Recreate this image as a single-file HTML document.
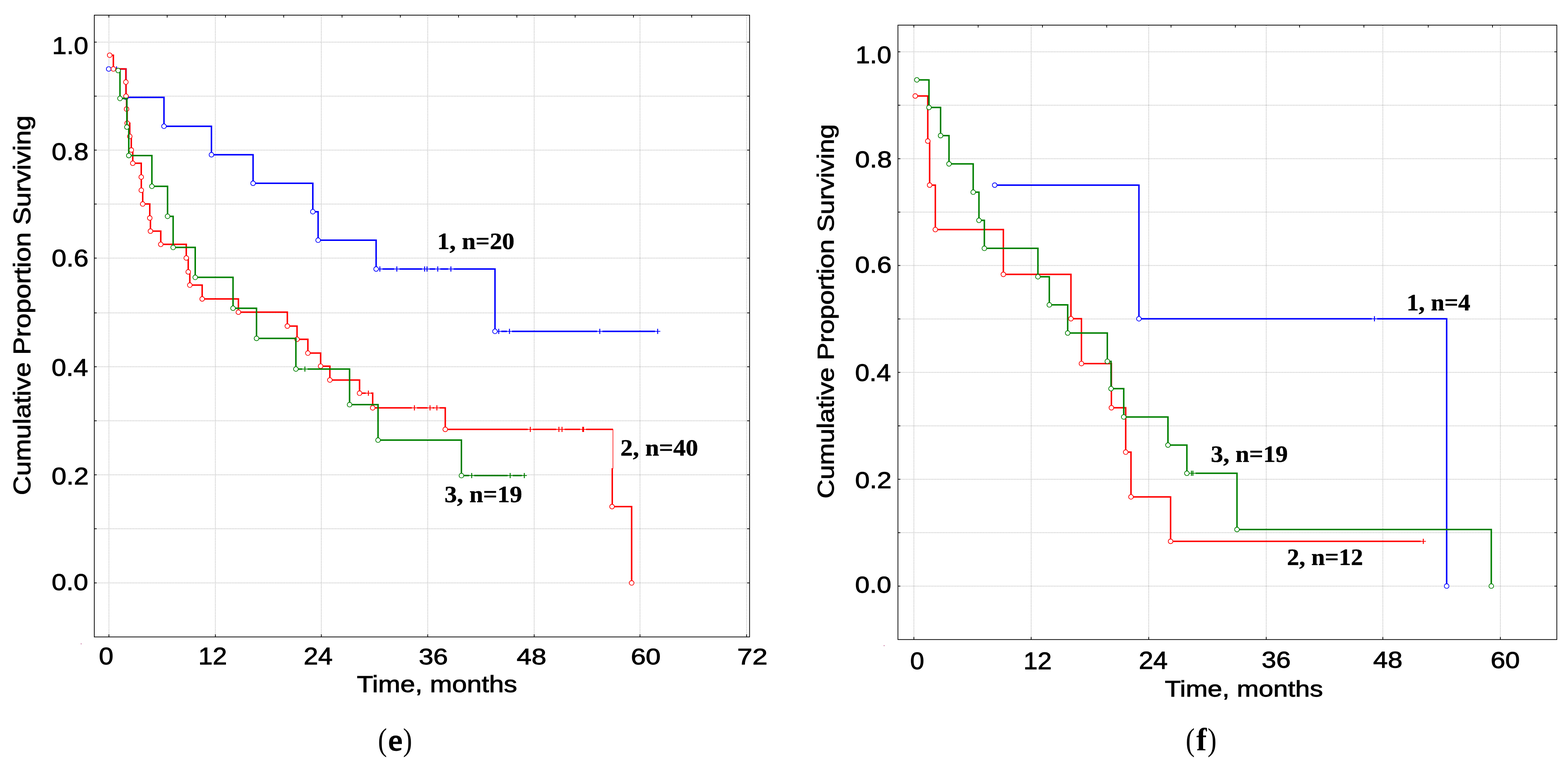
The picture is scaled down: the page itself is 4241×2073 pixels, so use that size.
<!DOCTYPE html>
<html><head><meta charset="utf-8"><title>Kaplan-Meier survival curves (e) and (f)</title>
<style>html,body{margin:0;padding:0;background:#fff;overflow:hidden}svg{display:block}</style></head>
<body><svg width="4241" height="2073" viewBox="0 0 4241 2073">
<rect width="4241" height="2073" fill="#fff"/>
<line x1="294.6" y1="42.0" x2="294.6" y2="1722.7" stroke="#b4b4b4" stroke-width="2" stroke-dasharray="2 2.17"/>
<line x1="582.5" y1="42.0" x2="582.5" y2="1722.7" stroke="#b4b4b4" stroke-width="2" stroke-dasharray="2 2.17"/>
<line x1="869.0" y1="42.0" x2="869.0" y2="1722.7" stroke="#b4b4b4" stroke-width="2" stroke-dasharray="2 2.17"/>
<line x1="1156.9" y1="42.0" x2="1156.9" y2="1722.7" stroke="#b4b4b4" stroke-width="2" stroke-dasharray="2 2.17"/>
<line x1="1444.8" y1="42.0" x2="1444.8" y2="1722.7" stroke="#b4b4b4" stroke-width="2" stroke-dasharray="2 2.17"/>
<line x1="1731.0" y1="42.0" x2="1731.0" y2="1722.7" stroke="#b4b4b4" stroke-width="2" stroke-dasharray="2 2.17"/>
<line x1="2019.4" y1="42.0" x2="2019.4" y2="1722.7" stroke="#b4b4b4" stroke-width="2" stroke-dasharray="2 2.17"/>
<line x1="256.1" y1="1577.4" x2="2026.3" y2="1577.4" stroke="#b4b4b4" stroke-width="2" stroke-dasharray="2 2.17"/>
<line x1="256.1" y1="1431.1" x2="2026.3" y2="1431.1" stroke="#b4b4b4" stroke-width="2" stroke-dasharray="2 2.17"/>
<line x1="256.1" y1="1285.1" x2="2026.3" y2="1285.1" stroke="#b4b4b4" stroke-width="2" stroke-dasharray="2 2.17"/>
<line x1="256.1" y1="1138.7" x2="2026.3" y2="1138.7" stroke="#b4b4b4" stroke-width="2" stroke-dasharray="2 2.17"/>
<line x1="256.1" y1="992.6" x2="2026.3" y2="992.6" stroke="#b4b4b4" stroke-width="2" stroke-dasharray="2 2.17"/>
<line x1="256.1" y1="846.8" x2="2026.3" y2="846.8" stroke="#b4b4b4" stroke-width="2" stroke-dasharray="2 2.17"/>
<line x1="256.1" y1="698.4" x2="2026.3" y2="698.4" stroke="#b4b4b4" stroke-width="2" stroke-dasharray="2 2.17"/>
<line x1="256.1" y1="552.3" x2="2026.3" y2="552.3" stroke="#b4b4b4" stroke-width="2" stroke-dasharray="2 2.17"/>
<line x1="256.1" y1="406.3" x2="2026.3" y2="406.3" stroke="#b4b4b4" stroke-width="2" stroke-dasharray="2 2.17"/>
<line x1="256.1" y1="260.2" x2="2026.3" y2="260.2" stroke="#b4b4b4" stroke-width="2" stroke-dasharray="2 2.17"/>
<line x1="256.1" y1="113.9" x2="2026.3" y2="113.9" stroke="#b4b4b4" stroke-width="2" stroke-dasharray="2 2.17"/>
<rect x="255.05" y="41.0" width="1772.3" height="1682.7" fill="none" stroke="#000" stroke-width="2"/>
<path d="M294.5 41.0v6.5 M452.1 41.0v6.5 M609.8 41.0v6.5 M767.4 41.0v6.5 M925.1 41.0v6.5 M1082.7 41.0v6.5 M1240.3 41.0v6.5 M1398.0 41.0v6.5 M1555.6 41.0v6.5 M1713.3 41.0v6.5 M1870.9 41.0v6.5 M294.6 1723.7v-7 M582.5 1723.7v-7 M869.0 1723.7v-7 M1156.9 1723.7v-7 M1444.8 1723.7v-7 M1731.0 1723.7v-7 M2019.4 1723.7v-7 M255.1 1577.4h6.5 M2027.3 1577.4h-6.5 M255.1 1431.1h6.5 M2027.3 1431.1h-6.5 M255.1 1285.1h6.5 M2027.3 1285.1h-6.5 M255.1 1138.7h6.5 M2027.3 1138.7h-6.5 M255.1 992.6h6.5 M2027.3 992.6h-6.5 M255.1 846.8h6.5 M2027.3 846.8h-6.5 M255.1 698.4h6.5 M2027.3 698.4h-6.5 M255.1 552.3h6.5 M2027.3 552.3h-6.5 M255.1 406.3h6.5 M2027.3 406.3h-6.5 M255.1 260.2h6.5 M2027.3 260.2h-6.5 M255.1 113.9h6.5 M2027.3 113.9h-6.5" stroke="#000" stroke-width="2" fill="none"/>
<path d="M294.0 186.7H308.3M322.3 186.7H340.8V263.4H443.5V341.7H571.9V418.8H684.5V496.0H846.1V572.9H860.4V650.1H1017.3V728.0H1020.4M1034.4 728.0H1066.3M1080.3 728.0H1141.6M1161.9 728.0H1177.0M1191.0 728.0H1212.6M1226.6 728.0H1338.8V896.7H1341.9M1355.9 896.7H1371.0M1385.0 896.7H1615.2M1629.2 896.7H1771.8M1785.8 896.7H1786.0" stroke="#0000ff" stroke-width="4.0" fill="none" stroke-linejoin="miter" stroke-linecap="butt"/>
<path d="M308.3 186.7h14.0M1020.4 728.0h14.0M1066.3 728.0h14.0M1141.6 728.0h14.0M1147.9 728.0h14.0M1177.0 728.0h14.0M1212.6 728.0h14.0M1341.9 896.7h14.0M1371.0 896.7h14.0M1615.2 896.7h14.0M1771.8 896.7h14.0M308.3 186.7H322.3M1020.4 728.0H1034.4M1066.3 728.0H1080.3M1141.6 728.0H1161.9M1177.0 728.0H1191.0M1212.6 728.0H1226.6M1341.9 896.7H1355.9M1371.0 896.7H1385.0M1615.2 896.7H1629.2M1771.8 896.7H1785.8" stroke="#0000ff" stroke-width="2" fill="none"/>
<path d="M315.3 179.7v14M1027.4 721.0v14M1073.3 721.0v14M1148.6 721.0v14M1154.9 721.0v14M1184.0 721.0v14M1219.6 721.0v14M1348.9 889.7v14M1378.0 889.7v14M1622.2 889.7v14M1778.8 889.7v14" stroke="#0000ff" stroke-width="2.6" fill="none"/>
<g fill="#fff" stroke="#0000ff" stroke-width="1.9"><circle cx="294.0" cy="186.7" r="6.3"/><circle cx="340.8" cy="263.4" r="6.3"/><circle cx="443.5" cy="341.7" r="6.3"/><circle cx="571.9" cy="418.8" r="6.3"/><circle cx="684.5" cy="496.0" r="6.3"/><circle cx="846.1" cy="572.9" r="6.3"/><circle cx="860.4" cy="650.1" r="6.3"/><circle cx="1017.3" cy="728.0" r="6.3"/><circle cx="1338.8" cy="896.7" r="6.3"/></g>
<path d="M296.7 149.4H306.6V186.6H340.4V222.1H340.8V260.3H342.3V295.2H343.9V333.4H351.0V369.1H355.1V406.0H359.1V441.8H382.0V479.2H382.2V514.9H386.0V552.1H405.1V590.0H406.9V625.5H434.8V661.3H503.8V698.2H509.1V735.8H513.4V771.6H546.8V809.0H644.8V844.8H777.2V882.5H803.4V918.2H832.7V955.6H867.2V990.9H892.2V1028.4H972.5V1064.1H989.3M1003.3 1064.1H1008.0V1103.7H1113.9M1127.9 1103.7H1156.1M1170.1 1103.7H1174.7M1188.7 1103.7H1204.3V1162.0H1427.3M1441.3 1162.0H1504.7M1527.1 1162.0H1569.1M1585.4 1162.0H1657.8" stroke="#ff0000" stroke-width="4.0" fill="none" stroke-linejoin="miter" stroke-linecap="butt"/>
<path d="M1204.3 1162.0H1657.8V1269" stroke="#ff0000" stroke-width="1.6" fill="none"/><path d="M1656.0 1267V1371.0H1708.4V1577.6" stroke="#ff0000" stroke-width="4.0" fill="none"/>
<path d="M989.3 1064.1h14.0M1113.9 1103.7h14.0M1156.1 1103.7h14.0M1174.7 1103.7h14.0M1427.3 1162.0h14.0M1504.7 1162.0h14.0M1513.1 1162.0h14.0M1569.1 1162.0h14.0M1571.4 1162.0h14.0M989.3 1064.1H1003.3M1113.9 1103.7H1127.9M1156.1 1103.7H1170.1M1174.7 1103.7H1188.7M1427.3 1162.0H1441.3M1504.7 1162.0H1527.1M1569.1 1162.0H1585.4" stroke="#ff0000" stroke-width="2" fill="none"/>
<path d="M996.3 1057.1v14M1120.9 1096.7v14M1163.1 1096.7v14M1181.7 1096.7v14M1434.3 1155.0v14M1511.7 1155.0v14M1520.1 1155.0v14M1576.1 1155.0v14M1578.4 1155.0v14" stroke="#ff0000" stroke-width="2.6" fill="none"/>
<g fill="#fff" stroke="#ff0000" stroke-width="1.9"><circle cx="296.7" cy="149.4" r="6.3"/><circle cx="306.6" cy="186.6" r="6.3"/><circle cx="340.4" cy="222.1" r="6.3"/><circle cx="340.8" cy="260.3" r="6.3"/><circle cx="342.3" cy="295.2" r="6.3"/><circle cx="343.9" cy="333.4" r="6.3"/><circle cx="351.0" cy="369.1" r="6.3"/><circle cx="355.1" cy="406.0" r="6.3"/><circle cx="359.1" cy="441.8" r="6.3"/><circle cx="382.0" cy="479.2" r="6.3"/><circle cx="382.2" cy="514.9" r="6.3"/><circle cx="386.0" cy="552.1" r="6.3"/><circle cx="405.1" cy="590.0" r="6.3"/><circle cx="406.9" cy="625.5" r="6.3"/><circle cx="434.8" cy="661.3" r="6.3"/><circle cx="503.8" cy="698.2" r="6.3"/><circle cx="509.1" cy="735.8" r="6.3"/><circle cx="513.4" cy="771.6" r="6.3"/><circle cx="546.8" cy="809.0" r="6.3"/><circle cx="644.8" cy="844.8" r="6.3"/><circle cx="777.2" cy="882.5" r="6.3"/><circle cx="803.4" cy="918.2" r="6.3"/><circle cx="832.7" cy="955.6" r="6.3"/><circle cx="867.2" cy="990.9" r="6.3"/><circle cx="892.2" cy="1028.4" r="6.3"/><circle cx="972.5" cy="1064.1" r="6.3"/><circle cx="1008.0" cy="1103.7" r="6.3"/><circle cx="1204.3" cy="1162.0" r="6.3"/></g>
<g fill="#fff" stroke="#ff0000" stroke-width="1.9"><circle cx="1655.4" cy="1371.0" r="6.3"/><circle cx="1708.4" cy="1577.6" r="6.3"/></g>
<path d="M319.6 190.8H324.5V266.4H343.2V343.8H348.3V421.0H410.8V504.2H453.2V585.4H468.3V669.6H528.0V750.6H630.3V834.2H693.8V915.8H800.3V998.7H817.7M831.7 998.7H945.5V1095.1H1022.5V1191.1H1248.0V1287.1H1268.8M1282.8 1287.1H1372.9M1386.9 1287.1H1411.1M1425.0 1287.1" stroke="#008000" stroke-width="4.0" fill="none" stroke-linejoin="miter" stroke-linecap="butt"/>
<path d="M817.7 998.7h14.0M1268.8 1287.1h14.0M1372.9 1287.1h14.0M1411.1 1287.1h14.0M817.7 998.7H831.7M1268.8 1287.1H1282.8M1372.9 1287.1H1386.9M1411.1 1287.1H1425.1" stroke="#008000" stroke-width="2" fill="none"/>
<path d="M824.7 991.7v14M1275.8 1280.1v14M1379.9 1280.1v14M1418.1 1280.1v14" stroke="#008000" stroke-width="2.6" fill="none"/>
<g fill="#fff" stroke="#008000" stroke-width="1.9"><circle cx="319.6" cy="190.8" r="6.3"/><circle cx="324.5" cy="266.4" r="6.3"/><circle cx="343.2" cy="343.8" r="6.3"/><circle cx="348.3" cy="421.0" r="6.3"/><circle cx="410.8" cy="504.2" r="6.3"/><circle cx="453.2" cy="585.4" r="6.3"/><circle cx="468.3" cy="669.6" r="6.3"/><circle cx="528.0" cy="750.6" r="6.3"/><circle cx="630.3" cy="834.2" r="6.3"/><circle cx="693.8" cy="915.8" r="6.3"/><circle cx="800.3" cy="998.7" r="6.3"/><circle cx="945.5" cy="1095.1" r="6.3"/><circle cx="1022.5" cy="1191.1" r="6.3"/><circle cx="1248.0" cy="1287.1" r="6.3"/></g>
<line x1="2471.8" y1="69.0" x2="2471.8" y2="1729.8" stroke="#b4b4b4" stroke-width="2" stroke-dasharray="2 2.17"/>
<line x1="2789.0" y1="69.0" x2="2789.0" y2="1729.8" stroke="#b4b4b4" stroke-width="2" stroke-dasharray="2 2.17"/>
<line x1="3107.0" y1="69.0" x2="3107.0" y2="1729.8" stroke="#b4b4b4" stroke-width="2" stroke-dasharray="2 2.17"/>
<line x1="3424.8" y1="69.0" x2="3424.8" y2="1729.8" stroke="#b4b4b4" stroke-width="2" stroke-dasharray="2 2.17"/>
<line x1="3740.2" y1="69.0" x2="3740.2" y2="1729.8" stroke="#b4b4b4" stroke-width="2" stroke-dasharray="2 2.17"/>
<line x1="4058.0" y1="69.0" x2="4058.0" y2="1729.8" stroke="#b4b4b4" stroke-width="2" stroke-dasharray="2 2.17"/>
<line x1="2429.7" y1="1586.2" x2="4209.8" y2="1586.2" stroke="#b4b4b4" stroke-width="2" stroke-dasharray="2 2.17"/>
<line x1="2429.7" y1="1441.6" x2="4209.8" y2="1441.6" stroke="#b4b4b4" stroke-width="2" stroke-dasharray="2 2.17"/>
<line x1="2429.7" y1="1297.0" x2="4209.8" y2="1297.0" stroke="#b4b4b4" stroke-width="2" stroke-dasharray="2 2.17"/>
<line x1="2429.7" y1="1152.4" x2="4209.8" y2="1152.4" stroke="#b4b4b4" stroke-width="2" stroke-dasharray="2 2.17"/>
<line x1="2429.7" y1="1007.8" x2="4209.8" y2="1007.8" stroke="#b4b4b4" stroke-width="2" stroke-dasharray="2 2.17"/>
<line x1="2429.7" y1="863.2" x2="4209.8" y2="863.2" stroke="#b4b4b4" stroke-width="2" stroke-dasharray="2 2.17"/>
<line x1="2429.7" y1="718.6" x2="4209.8" y2="718.6" stroke="#b4b4b4" stroke-width="2" stroke-dasharray="2 2.17"/>
<line x1="2429.7" y1="574.0" x2="4209.8" y2="574.0" stroke="#b4b4b4" stroke-width="2" stroke-dasharray="2 2.17"/>
<line x1="2429.7" y1="429.4" x2="4209.8" y2="429.4" stroke="#b4b4b4" stroke-width="2" stroke-dasharray="2 2.17"/>
<line x1="2429.7" y1="284.8" x2="4209.8" y2="284.8" stroke="#b4b4b4" stroke-width="2" stroke-dasharray="2 2.17"/>
<line x1="2429.7" y1="140.2" x2="4209.8" y2="140.2" stroke="#b4b4b4" stroke-width="2" stroke-dasharray="2 2.17"/>
<rect x="2428.66" y="68.0" width="1782.1" height="1662.8" fill="none" stroke="#000" stroke-width="2"/>
<path d="M2471.7 68.0v6.5 M2645.6 68.0v6.5 M2819.5 68.0v6.5 M2993.4 68.0v6.5 M3167.3 68.0v6.5 M3341.2 68.0v6.5 M3515.1 68.0v6.5 M3689.0 68.0v6.5 M3862.9 68.0v6.5 M4036.8 68.0v6.5 M2471.8 1730.8v-7 M2789.0 1730.8v-7 M3107.0 1730.8v-7 M3424.8 1730.8v-7 M3740.2 1730.8v-7 M4058.0 1730.8v-7 M2428.7 1586.2h6.5 M4210.8 1586.2h-6.5 M2428.7 1441.6h6.5 M4210.8 1441.6h-6.5 M2428.7 1297.0h6.5 M4210.8 1297.0h-6.5 M2428.7 1152.4h6.5 M4210.8 1152.4h-6.5 M2428.7 1007.8h6.5 M4210.8 1007.8h-6.5 M2428.7 863.2h6.5 M4210.8 863.2h-6.5 M2428.7 718.6h6.5 M4210.8 718.6h-6.5 M2428.7 574.0h6.5 M4210.8 574.0h-6.5 M2428.7 429.4h6.5 M4210.8 429.4h-6.5 M2428.7 284.8h6.5 M4210.8 284.8h-6.5 M2428.7 140.2h6.5 M4210.8 140.2h-6.5" stroke="#000" stroke-width="2" fill="none"/>
<path d="M2690.4 501.0H3080.5V862.7H3710.5M3724.5 862.7H3912.8V1586.1" stroke="#0000ff" stroke-width="4.0" fill="none" stroke-linejoin="miter" stroke-linecap="butt"/>
<path d="M3710.5 862.7h14.0M3710.5 862.7H3724.5" stroke="#0000ff" stroke-width="2" fill="none"/>
<path d="M3717.5 855.7v14" stroke="#0000ff" stroke-width="2.6" fill="none"/>
<g fill="#fff" stroke="#0000ff" stroke-width="1.9"><circle cx="2690.4" cy="501.0" r="6.3"/><circle cx="3080.5" cy="862.7" r="6.3"/><circle cx="3912.8" cy="1586.1" r="6.3"/></g>
<path d="M2475.5 259.8H2509.4V381.8H2514.4V501.0H2529.8V621.3H2713.8V742.5H2896.6V862.5H2925.0V983.9H3006.0V1103.5H3044.7V1223.6H3059.0V1344.7H3166.1V1465.0H3842.6M3856.6 1465.0" stroke="#ff0000" stroke-width="4.0" fill="none" stroke-linejoin="miter" stroke-linecap="butt"/>
<path d="M3842.6 1465.0h14.0M3842.6 1465.0H3856.6" stroke="#ff0000" stroke-width="2" fill="none"/>
<path d="M3849.6 1458.0v14" stroke="#ff0000" stroke-width="2.6" fill="none"/>
<g fill="#fff" stroke="#ff0000" stroke-width="1.9"><circle cx="2475.5" cy="259.8" r="6.3"/><circle cx="2509.4" cy="381.8" r="6.3"/><circle cx="2514.4" cy="501.0" r="6.3"/><circle cx="2529.8" cy="621.3" r="6.3"/><circle cx="2713.8" cy="742.5" r="6.3"/><circle cx="2896.6" cy="862.5" r="6.3"/><circle cx="2925.0" cy="983.9" r="6.3"/><circle cx="3006.0" cy="1103.5" r="6.3"/><circle cx="3044.7" cy="1223.6" r="6.3"/><circle cx="3059.0" cy="1344.7" r="6.3"/><circle cx="3166.1" cy="1465.0" r="6.3"/></g>
<path d="M2479.8 216.2H2512.6V290.8H2544.0V367.0H2566.8V443.5H2632.2V520.1H2647.8V596.3H2662.4V672.1H2807.3V748.9H2838.1V825.1H2887.8V901.3H2995.0V977.9H3005.0V1051.8H3039.4V1128.4H3159.0V1204.5H3210.2V1280.8H3215.4M3233.5 1280.8H3345.7V1433.0H4033.5V1586.1" stroke="#008000" stroke-width="4.0" fill="none" stroke-linejoin="miter" stroke-linecap="butt"/>
<path d="M3215.4 1280.8h14.0M3219.5 1280.8h14.0M3215.4 1280.8H3233.5" stroke="#008000" stroke-width="2" fill="none"/>
<path d="M3222.4 1273.8v14M3226.5 1273.8v14" stroke="#008000" stroke-width="2.6" fill="none"/>
<g fill="#fff" stroke="#008000" stroke-width="1.9"><circle cx="2479.8" cy="216.2" r="6.3"/><circle cx="2512.6" cy="290.8" r="6.3"/><circle cx="2544.0" cy="367.0" r="6.3"/><circle cx="2566.8" cy="443.5" r="6.3"/><circle cx="2632.2" cy="520.1" r="6.3"/><circle cx="2647.8" cy="596.3" r="6.3"/><circle cx="2662.4" cy="672.1" r="6.3"/><circle cx="2807.3" cy="748.9" r="6.3"/><circle cx="2838.1" cy="825.1" r="6.3"/><circle cx="2887.8" cy="901.3" r="6.3"/><circle cx="2995.0" cy="977.9" r="6.3"/><circle cx="3005.0" cy="1051.8" r="6.3"/><circle cx="3039.4" cy="1128.4" r="6.3"/><circle cx="3159.0" cy="1204.5" r="6.3"/><circle cx="3210.2" cy="1280.8" r="6.3"/><circle cx="3345.7" cy="1433.0" r="6.3"/><circle cx="4033.5" cy="1586.1" r="6.3"/></g>
<rect x="218.5" y="1741.4" width="2" height="2" fill="#b03070"/>
<rect x="2390.3" y="1746.3" width="2" height="2" fill="#b03070"/>
<text transform="translate(141.11,146.40) scale(1.0887,1)" font-family='"Liberation Sans", Arial, sans-serif' font-weight="normal" font-size="64.55" fill="#000" stroke="#000" stroke-width="1.3">1.0</text>
<text transform="translate(139.85,432.50) scale(1.1086,1)" font-family='"Liberation Sans", Arial, sans-serif' font-weight="normal" font-size="64.69" fill="#000" stroke="#000" stroke-width="1.3">0.8</text>
<text transform="translate(139.75,720.80) scale(1.1107,1)" font-family='"Liberation Sans", Arial, sans-serif' font-weight="normal" font-size="64.55" fill="#000" stroke="#000" stroke-width="1.3">0.6</text>
<text transform="translate(139.48,1017.01) scale(1.1089,1)" font-family='"Liberation Sans", Arial, sans-serif' font-weight="normal" font-size="64.12" fill="#000" stroke="#000" stroke-width="1.3">0.4</text>
<text transform="translate(139.43,1311.01) scale(1.1292,1)" font-family='"Liberation Sans", Arial, sans-serif' font-weight="normal" font-size="63.98" fill="#000" stroke="#000" stroke-width="1.3">0.2</text>
<text transform="translate(139.78,1597.11) scale(1.1115,1)" font-family='"Liberation Sans", Arial, sans-serif' font-weight="normal" font-size="63.84" fill="#000" stroke="#000" stroke-width="1.3">0.0</text>
<text transform="translate(2314.16,170.61) scale(1.0849,1)" font-family='"Liberation Sans", Arial, sans-serif' font-weight="normal" font-size="64.12" fill="#000" stroke="#000" stroke-width="1.3">1.0</text>
<text transform="translate(2312.66,452.91) scale(1.1221,1)" font-family='"Liberation Sans", Arial, sans-serif' font-weight="normal" font-size="63.84" fill="#000" stroke="#000" stroke-width="1.3">0.8</text>
<text transform="translate(2312.68,737.61) scale(1.1183,1)" font-family='"Liberation Sans", Arial, sans-serif' font-weight="normal" font-size="63.56" fill="#000" stroke="#000" stroke-width="1.3">0.6</text>
<text transform="translate(2312.72,1030.61) scale(1.0924,1)" font-family='"Liberation Sans", Arial, sans-serif' font-weight="normal" font-size="63.98" fill="#000" stroke="#000" stroke-width="1.3">0.4</text>
<text transform="translate(2312.68,1321.12) scale(1.1249,1)" font-family='"Liberation Sans", Arial, sans-serif' font-weight="normal" font-size="63.14" fill="#000" stroke="#000" stroke-width="1.3">0.2</text>
<text transform="translate(2312.70,1604.01) scale(1.1080,1)" font-family='"Liberation Sans", Arial, sans-serif' font-weight="normal" font-size="63.70" fill="#000" stroke="#000" stroke-width="1.3">0.0</text>
<text transform="translate(267.60,1797.90) scale(1.0851,1)" font-family='"Liberation Sans", Arial, sans-serif' font-weight="normal" font-size="64.97" fill="#000" stroke="#000" stroke-width="1.3">0</text>
<text transform="translate(536.56,1798.05) scale(1.0673,1)" font-family='"Liberation Sans", Arial, sans-serif' font-weight="normal" font-size="65.19" fill="#000" stroke="#000" stroke-width="1.3">12</text>
<text transform="translate(821.33,1798.05) scale(1.0811,1)" font-family='"Liberation Sans", Arial, sans-serif' font-weight="normal" font-size="65.19" fill="#000" stroke="#000" stroke-width="1.3">24</text>
<text transform="translate(1132.66,1797.84) scale(1.1642,1)" font-family='"Liberation Sans", Arial, sans-serif' font-weight="normal" font-size="60.88" fill="#000" stroke="#000" stroke-width="1.3">36</text>
<text transform="translate(1397.59,1797.84) scale(1.1841,1)" font-family='"Liberation Sans", Arial, sans-serif' font-weight="normal" font-size="60.88" fill="#000" stroke="#000" stroke-width="1.3">48</text>
<text transform="translate(1706.15,1797.84) scale(1.1926,1)" font-family='"Liberation Sans", Arial, sans-serif' font-weight="normal" font-size="60.88" fill="#000" stroke="#000" stroke-width="1.3">60</text>
<text transform="translate(1994.09,1798.05) scale(1.2062,1)" font-family='"Liberation Sans", Arial, sans-serif' font-weight="normal" font-size="61.17" fill="#000" stroke="#000" stroke-width="1.3">72</text>
<text transform="translate(2461.69,1810.81) scale(1.0589,1)" font-family='"Liberation Sans", Arial, sans-serif' font-weight="normal" font-size="64.41" fill="#000" stroke="#000" stroke-width="1.3">0</text>
<text transform="translate(2768.34,1810.95) scale(1.0611,1)" font-family='"Liberation Sans", Arial, sans-serif' font-weight="normal" font-size="64.61" fill="#000" stroke="#000" stroke-width="1.3">12</text>
<text transform="translate(3080.34,1809.65) scale(1.0673,1)" font-family='"Liberation Sans", Arial, sans-serif' font-weight="normal" font-size="65.76" fill="#000" stroke="#000" stroke-width="1.3">24</text>
<text transform="translate(3412.47,1807.01) scale(1.1041,1)" font-family='"Liberation Sans", Arial, sans-serif' font-weight="normal" font-size="63.84" fill="#000" stroke="#000" stroke-width="1.3">36</text>
<text transform="translate(3714.11,1807.01) scale(1.1141,1)" font-family='"Liberation Sans", Arial, sans-serif' font-weight="normal" font-size="63.84" fill="#000" stroke="#000" stroke-width="1.3">48</text>
<text transform="translate(4031.83,1807.73) scale(1.1389,1)" font-family='"Liberation Sans", Arial, sans-serif' font-weight="normal" font-size="62.29" fill="#000" stroke="#000" stroke-width="1.3">60</text>
<text transform="translate(965.37,1873.35) scale(1.1578,1)" font-family='"Liberation Sans", Arial, sans-serif' font-weight="normal" font-size="62.21" fill="#000" stroke="#000" stroke-width="1.3">Time, months</text>
<text transform="translate(3150.59,1884.55) scale(1.1604,1)" font-family='"Liberation Sans", Arial, sans-serif' font-weight="normal" font-size="61.24" fill="#000" stroke="#000" stroke-width="1.3">Time, months</text>
<text transform="translate(1182.50,674.15) scale(1.0491,1)" font-family='"Liberation Serif", "Times New Roman", serif' font-weight="bold" font-size="63.76" fill="#000" stroke="#000" stroke-width="0.7">1, n=20</text>
<text transform="translate(1678.03,1233.45) scale(1.0491,1)" font-family='"Liberation Serif", "Times New Roman", serif' font-weight="bold" font-size="64.06" fill="#000" stroke="#000" stroke-width="0.7">2, n=40</text>
<text transform="translate(1202.30,1358.55) scale(1.0517,1)" font-family='"Liberation Serif", "Times New Roman", serif' font-weight="bold" font-size="63.90" fill="#000" stroke="#000" stroke-width="0.7">3, n=19</text>
<text transform="translate(3804.50,840.05) scale(1.0317,1)" font-family='"Liberation Serif", "Times New Roman", serif' font-weight="bold" font-size="63.64" fill="#000" stroke="#000" stroke-width="0.7">1, n=4</text>
<text transform="translate(3480.98,1528.95) scale(1.0401,1)" font-family='"Liberation Serif", "Times New Roman", serif' font-weight="bold" font-size="63.29" fill="#000" stroke="#000" stroke-width="0.7">2, n=12</text>
<text transform="translate(3275.12,1250.45) scale(1.0646,1)" font-family='"Liberation Serif", "Times New Roman", serif' font-weight="bold" font-size="62.54" fill="#000" stroke="#000" stroke-width="0.7">3, n=19</text>
<text transform="translate(82.15,1340.02) rotate(-90) scale(1.1169,1)" font-family='"Liberation Sans", Arial, sans-serif' font-weight="normal" font-size="64.41" fill="#000" stroke="#000" stroke-width="1.3">Cumulative Proportion Surviving</text>
<text transform="translate(2255.05,1349.07) rotate(-90) scale(1.1352,1)" font-family='"Liberation Sans", Arial, sans-serif' font-weight="normal" font-size="62.48" fill="#000" stroke="#000" stroke-width="1.3">Cumulative Proportion Surviving</text>
<text transform="translate(1022.16,2031.21) scale(0.8519,1)" font-family='"Liberation Serif", "Times New Roman", serif' font-size="86.33" fill="#000">(</text><text transform="translate(1089.92,2031.21) scale(0.8609,1)" font-family='"Liberation Serif", "Times New Roman", serif' font-size="86.33" fill="#000">)</text><text transform="translate(1050.38,2030.20) scale(1.0692,1)" font-family='"Liberation Serif", "Times New Roman", serif' font-weight="normal" font-size="79.63" fill="#000" stroke="#000" stroke-width="3.0">e</text>
<text transform="translate(3207.06,2031.21) scale(0.8519,1)" font-family='"Liberation Serif", "Times New Roman", serif' font-size="86.33" fill="#000">(</text><text transform="translate(3266.05,2031.21) scale(0.8519,1)" font-family='"Liberation Serif", "Times New Roman", serif' font-size="86.33" fill="#000">)</text><text transform="translate(3235.81,2030.80) scale(0.9626,1)" font-family='"Liberation Serif", "Times New Roman", serif' font-weight="bold" font-size="87.50" fill="#000" stroke="#000" stroke-width="0.0">f</text>
</svg></body></html>
